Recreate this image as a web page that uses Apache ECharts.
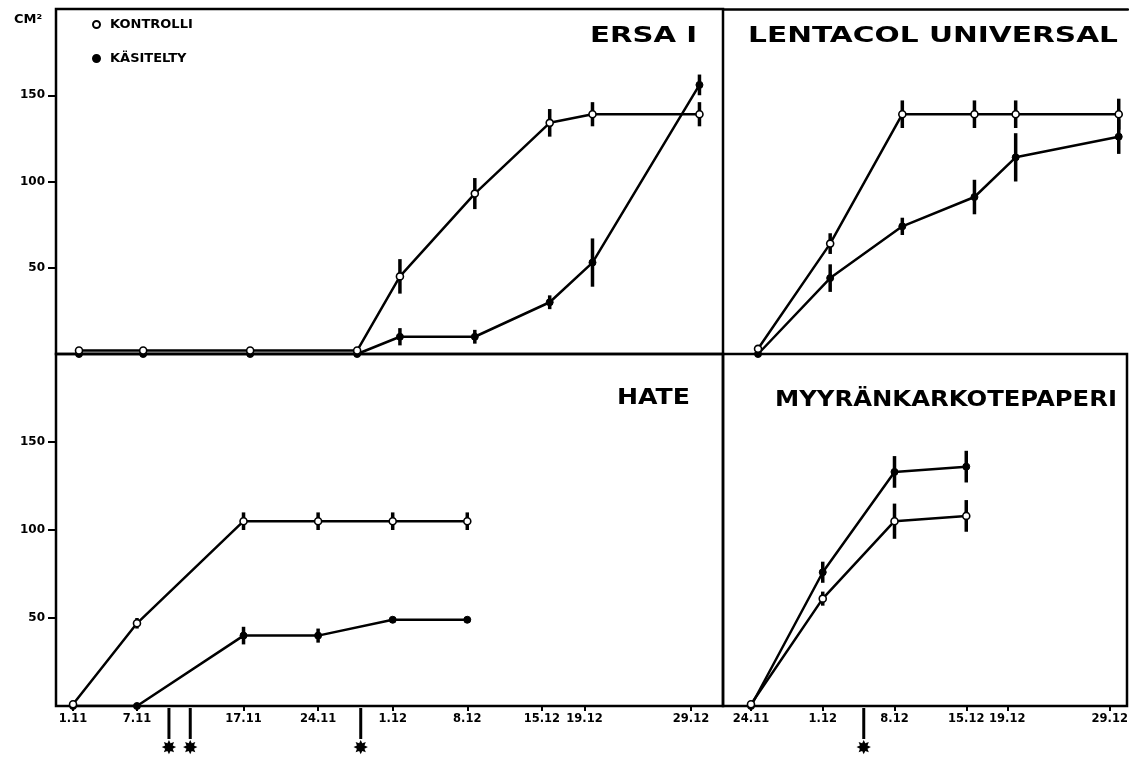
<!DOCTYPE html>
<html>
<head>
<meta charset="utf-8">
<title>Myyräkokeet</title>
<script src="https://cdn.jsdelivr.net/npm/echarts@6/dist/echarts.min.js"></script>
<style>
  html, body { margin: 0; padding: 0; background: #fff; }
  #chart { width: 1129px; height: 762px; }
</style>
</head>
<body>
<div id="chart"></div>
<script>
// tick labels of the date axes (d.m)
const leftTicks = ['1.11', '7.11', '17.11', '24.11', '1.12', '8.12', '15.12', '19.12', '29.12']
const rightTicks = ['24.11', '1.12', '8.12', '15.12', '19.12', '29.12']
const yTicks = [50, 100, 150]

// ERSA I
const ersaDates = ['1.11', '7.11', '17.11', '27.11', '1.12', '8.12', '15.12', '19.12', '29.12']
const ersaControl = [2, 2, 2, 2, 45, 93, 134, 139, 139]
const ersaControlErr = [0, 0, 0, 0, 10, 9, 8, 7, 7]
const ersaTreated = [0, 0, 0, 0, 10, 10, 30, 53, 156]
const ersaTreatedErr = [0, 0, 0, 0, 5, 4, 4, 14, 6]

// LENTACOL UNIVERSAL
const lentDates = ['24.11', '1.12', '8.12', '15.12', '19.12', '29.12']
const lentControl = [3, 64, 139, 139, 139, 139]
const lentControlErr = [0, 6, 8, 8, 8, 9]
const lentTreated = [0, 44, 74, 91, 114, 126]
const lentTreatedErr = [0, 8, 5, 10, 14, 10]

// HATE
const hateDates = ['1.11', '7.11', '17.11', '24.11', '1.12', '8.12']
const hateControl = [1, 47, 105, 105, 105, 105]
const hateControlErr = [0, 3, 5, 5, 5, 5]
const hateTreated = [0, 0, 40, 40, 49, 49]
const hateTreatedErr = [0, 0, 5, 4, 0, 0]

// MYYRÄNKARKOTEPAPERI
const myyDates = ['24.11', '1.12', '8.12', '15.12']
const myyControl = [1, 61, 105, 108]
const myyControlErr = [0, 4, 10, 9]
const myyTreated = [0, 76, 133, 136]
const myyTreatedErr = [0, 6, 9, 9]

// käsittelypäivät (tähdet akselin alla)
const leftTreatments = ['10.11', '12.11', '28.11']
const rightTreatments = ['5.12']

const panelTitles = ['ERSA I', 'LENTACOL UNIVERSAL', 'HATE', 'MYYRÄNKARKOTEPAPERI']

// päivä numerona, 1.11 = 0
function dayOf (s) {
  const [d, m] = s.split('.').map(Number)
  return m === 11 ? d - 1 : d + 29
}
const labelOf = {}
leftTicks.concat(rightTicks).forEach(s => { labelOf[dayOf(s)] = s })

const panels = [
  { dates: ersaDates, c: ersaControl, ce: ersaControlErr, t: ersaTreated, te: ersaTreatedErr },
  { dates: lentDates, c: lentControl, ce: lentControlErr, t: lentTreated, te: lentTreatedErr },
  { dates: hateDates, c: hateControl, ce: hateControlErr, t: hateTreated, te: hateTreatedErr },
  { dates: myyDates, c: myyControl, ce: myyControlErr, t: myyTreated, te: myyTreatedErr }
]

const grids = [
  { left: 56, top: 9, width: 667, height: 345 },
  { left: 723, top: 9, width: 405, height: 345 },
  { left: 56, top: 354, width: 667, height: 352 },
  { left: 723, top: 354, width: 404, height: 352 }
]
const xRange = [[-2.15, 60.2], [19.6, 58.9], [-1.6, 61.0], [20.27, 59.68]]

// otsikot: oikea reuna, keskikohta y, leveys
const titleBox = [
  { right: 697, y: 36, w: 107 },
  { right: 1118, y: 36, w: 370 },
  { right: 690, y: 398, w: 73 },
  { right: 1117, y: 400, w: 342 }
]
const titleFont = 'bold 22px "DejaVu Sans"'
const ctx = document.createElement('canvas').getContext('2d')
ctx.font = titleFont

const black = '#000'
const fontFamily = '"DejaVu Sans", sans-serif'

function pairs (dates, vals) {
  return dates.map((s, i) => [dayOf(s), vals[i]])
}
function bars (dates, vals, errs) {
  return dates.map((s, i) => [dayOf(s), vals[i], errs[i]]).filter(r => r[2] > 0)
}

function errorBars (api) {
  const x = api.value(0)
  const v = api.value(1)
  const e = api.value(2)
  const a = api.coord([x, v + e])
  const b = api.coord([x, v - e])
  return {
    type: 'line',
    shape: { x1: a[0], y1: a[1], x2: b[0], y2: b[1] },
    style: { stroke: black, lineWidth: 3.5 }
  }
}

function treatmentMark (params, api) {
  const p = api.coord([api.value(0), 0])
  return {
    type: 'group',
    children: [
      {
        type: 'line',
        shape: { x1: p[0], y1: p[1] + 2, x2: p[0], y2: p[1] + 33 },
        style: { stroke: black, lineWidth: 3 }
      },
      {
        type: 'text',
        x: p[0],
        y: p[1] + 43,
        style: { text: '✸', font: 'bold 19px "DejaVu Sans"', fill: black, align: 'center', verticalAlign: 'middle' }
      }
    ]
  }
}

const series = []
panels.forEach((p, i) => {
  series.push({
    name: 'errorbars' + i,
    type: 'custom',
    xAxisIndex: i,
    yAxisIndex: i,
    renderItem: (params, api) => errorBars(api),
    data: bars(p.dates, p.c, p.ce).concat(bars(p.dates, p.t, p.te)),
    encode: { x: 0, y: 1 },
    z: 2
  })
  series.push({
    name: 'KONTROLLI',
    type: 'line',
    xAxisIndex: i,
    yAxisIndex: i,
    data: pairs(p.dates, p.c),
    symbol: 'circle',
    symbolSize: 7,
    showAllSymbol: true,
    lineStyle: { color: black, width: 2.5 },
    itemStyle: { color: '#fff', borderColor: black, borderWidth: 1.6 },
    z: 4
  })
  series.push({
    name: 'KÄSITELTY',
    type: 'line',
    xAxisIndex: i,
    yAxisIndex: i,
    data: pairs(p.dates, p.t),
    symbol: 'circle',
    symbolSize: 7,
    showAllSymbol: true,
    lineStyle: { color: black, width: 2.5 },
    itemStyle: { color: black, borderColor: black, borderWidth: 1 },
    z: 3
  })
})
series.push({
  name: 'treatLeft',
  type: 'custom',
  xAxisIndex: 2,
  yAxisIndex: 2,
  clip: false,
  renderItem: treatmentMark,
  data: leftTreatments.map(s => [dayOf(s), 0]),
  encode: { x: 0, y: 1 }
})
series.push({
  name: 'treatRight',
  type: 'custom',
  xAxisIndex: 3,
  yAxisIndex: 3,
  clip: false,
  renderItem: treatmentMark,
  data: rightTreatments.map(s => [dayOf(s), 0]),
  encode: { x: 0, y: 1 }
})

const titles = panelTitles.map((t, i) => {
  const box = titleBox[i]
  const sx = box.w / ctx.measureText(t).width
  return {
    type: 'text',
    x: box.right,
    y: box.y,
    scaleX: sx,
    style: { text: t, font: titleFont, fill: black, align: 'right', verticalAlign: 'middle' }
  }
})

const chart = echarts.init(document.getElementById('chart'))
const option = {
  animation: false,
  backgroundColor: '#fff',
  title: {
    text: 'CM²',
    left: 9,
    top: 8,
    textStyle: { fontFamily: fontFamily, fontWeight: 'bold', fontSize: 13, color: black }
  },
  legend: {
    data: ['KONTROLLI', 'KÄSITELTY'],
    orient: 'vertical',
    left: 87,
    top: 13,
    icon: 'circle',
    itemWidth: 7,
    itemHeight: 7,
    itemGap: 21,
    selectedMode: false,
    textStyle: { fontFamily: fontFamily, fontWeight: 'bold', fontSize: 13, color: black, padding: [0, 0, 0, 5] }
  },
  grid: grids.map((g, i) => ({
    left: g.left,
    top: g.top,
    width: g.width,
    height: g.height,
    outerBoundsMode: 'none',
    containLabel: false,
    show: i !== 1,
    borderColor: black,
    borderWidth: 2.5,
    backgroundColor: 'transparent'
  })),
  xAxis: grids.map((g, i) => {
    const ticks = (i % 2 === 0 ? leftTicks : rightTicks).map(dayOf)
    return {
      type: 'value',
      gridIndex: i,
      min: xRange[i][0],
      max: xRange[i][1],
      position: i === 1 ? 'top' : 'bottom',
      axisLine: { show: i === 1, onZero: false, lineStyle: { color: black, width: 2.5 } },
      axisTick: { show: i >= 2, customValues: ticks, length: 5, lineStyle: { color: black, width: 2 } },
      axisLabel: {
        show: i >= 2,
        customValues: ticks,
        formatter: v => labelOf[Math.round(v)] || '',
        fontFamily: fontFamily,
        fontWeight: 'bold',
        fontSize: 11.5,
        color: black,
        margin: 7
      },
      splitLine: { show: false }
    }
  }),
  yAxis: grids.map((g, i) => ({
    type: 'value',
    gridIndex: i,
    min: 0,
    max: 200,
    position: 'left',
    axisLine: { show: false, onZero: false },
    axisTick: { show: i % 2 === 0, customValues: yTicks, length: 8, lineStyle: { color: black, width: 2 } },
    axisLabel: {
      show: i % 2 === 0,
      customValues: yTicks,
      fontFamily: fontFamily,
      fontWeight: 'bold',
      fontSize: 12,
      color: black,
      margin: 11
    },
    splitLine: { show: false }
  })),
  graphic: titles,
  series: series
}
chart.setOption(option)
</script>
</body>
</html>
